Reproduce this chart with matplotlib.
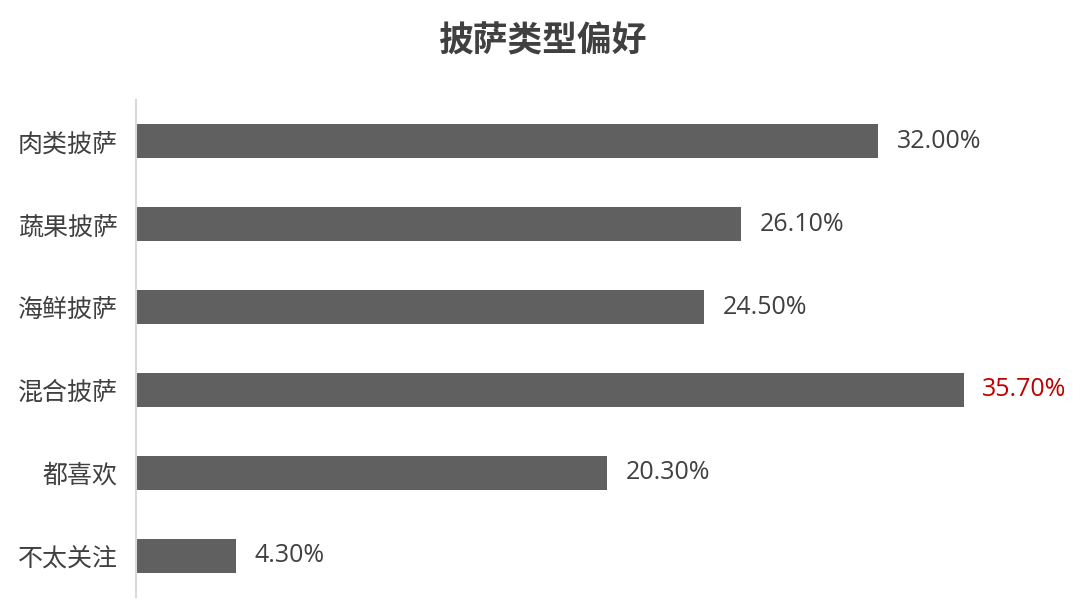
import matplotlib
matplotlib.use('Agg')
from matplotlib import pyplot as plt

plt.rcParams['font.family'] = ['Noto Sans CJK SC', 'DejaVu Sans']

# pizza type preference, top to bottom
categories = ['肉类披萨', '蔬果披萨', '海鲜披萨', '混合披萨', '都喜欢', '不太关注']
shares = [32.0, 26.1, 24.5, 35.7, 20.3, 4.3]
value_labels = ['32.00%', '26.10%', '24.50%', '35.70%', '20.30%', '4.30%']
highlight = '混合披萨'

bar_color = '#606060'
text_color = '#404040'
red = '#c00000'

fig = plt.figure(figsize=(10.8, 6.07), dpi=100)
ax = fig.add_axes([0.1259, 0.0165, 0.8589, 0.8188])

y = list(range(len(categories)))
ax.barh(y, shares, height=0.41, color=bar_color)

for i, (v, lab, cat) in enumerate(zip(shares, value_labels, categories)):
    c = red if cat == highlight else text_color
    ax.text(v + 0.8, i, lab, va='center', ha='left', fontsize=18,
            color=c, family=['Open Sans', 'DejaVu Sans'])

ax.set_yticks(y)
ax.set_yticklabels(categories, fontsize=18, color=text_color)
ax.tick_params(axis='y', length=0, pad=13)
ax.set_xticks([])
ax.set_xlim(0, 40)
ax.set_ylim(len(categories) - 0.5, -0.5)

for side in ['top', 'right', 'bottom']:
    ax.spines[side].set_visible(False)
ax.spines['left'].set_color('#d9d9d9')
ax.spines['left'].set_linewidth(1.5)

fig.suptitle('披萨类型偏好', x=0.503, y=0.962, fontsize=25,
             fontweight='bold', color=text_color)

fig.savefig('out.png', dpi=100)
